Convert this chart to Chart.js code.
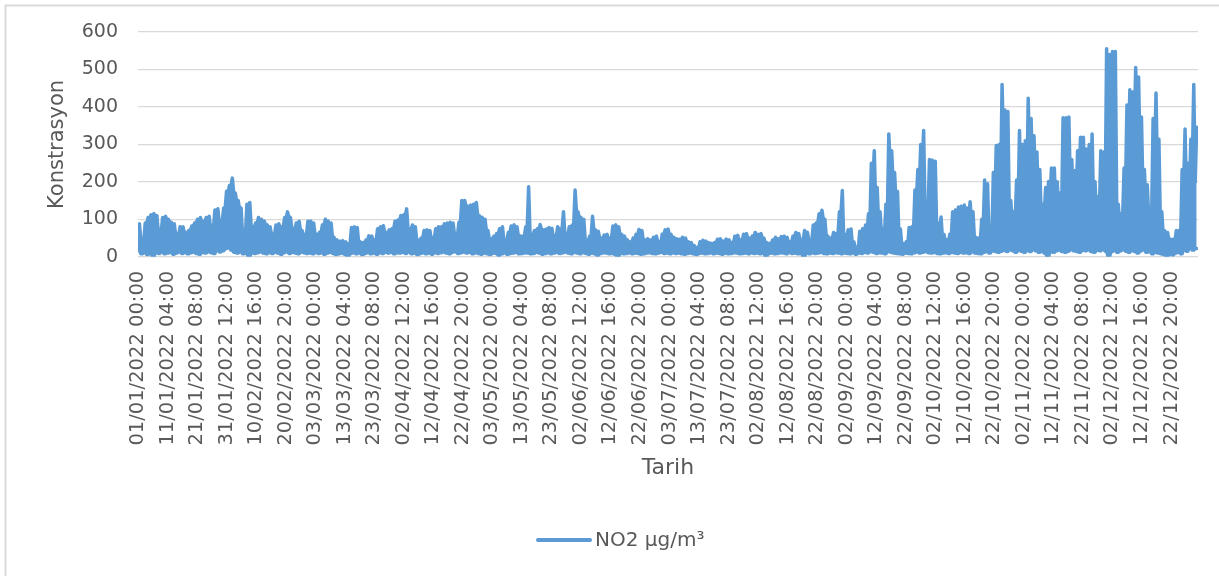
<!DOCTYPE html>
<html>
<head>
<meta charset="utf-8">
<script src="https://cdn.jsdelivr.net/npm/chart.js@4.4.0/dist/chart.umd.min.js"></script>
<style>
  html, body { margin: 0; padding: 0; background: #ffffff; }
  canvas { display: block; }
</style>
</head>
<body>
<canvas id="grafico" width="1219" height="576"></canvas>
<script>
// === DADOS ===
const seriesLabel = "NO2 µg/m³";
const yTitle = "Konstrasyon";
const xTitle = "Tarih";

// etiquetas do eixo X (uma a cada 244 horas)
const tickLabels = [
  "01/01/2022 00:00", "11/01/2022 04:00", "21/01/2022 08:00", "31/01/2022 12:00",
  "10/02/2022 16:00", "20/02/2022 20:00", "03/03/2022 00:00", "13/03/2022 04:00",
  "23/03/2022 08:00", "02/04/2022 12:00", "12/04/2022 16:00", "22/04/2022 20:00",
  "03/05/2022 00:00", "13/05/2022 04:00", "23/05/2022 08:00", "02/06/2022 12:00",
  "12/06/2022 16:00", "22/06/2022 20:00", "03/07/2022 00:00", "13/07/2022 04:00",
  "23/07/2022 08:00", "02/08/2022 12:00", "12/08/2022 16:00", "22/08/2022 20:00",
  "02/09/2022 00:00", "12/09/2022 04:00", "22/09/2022 08:00", "02/10/2022 12:00",
  "12/10/2022 16:00", "22/10/2022 20:00", "02/11/2022 00:00", "12/11/2022 04:00",
  "22/11/2022 08:00", "02/12/2022 12:00", "12/12/2022 16:00", "22/12/2022 20:00"
];
const TICK_STEP_HOURS = 244;

// pico diário (meio-dia)
const dailyPeak = [
  // jan
  88, 45, 90, 105, 112, 115, 110, 70, 105, 108, 100, 92, 88, 60, 80, 80, 65, 70, 82, 90, 100, 105, 95, 105, 108, 80, 125, 128, 95, 130, 175,
  // fev
  190, 210, 170, 150, 130, 60, 140, 145, 80, 90, 105, 100, 95, 85, 80, 60, 85, 88, 80, 105, 120, 105, 75, 90, 95, 70, 60, 95,
  // mar
  95, 90, 60, 65, 85, 100, 95, 90, 52, 45, 42, 43, 40, 35, 78, 80, 78, 40, 38, 45, 56, 55, 45, 75, 80, 83, 65, 72, 75, 95, 98,
  // abr
  110, 112, 128, 75, 85, 80, 45, 50, 70, 72, 70, 50, 75, 80, 80, 88, 90, 92, 90, 60, 92, 150, 150, 135, 138, 140, 145, 110, 105, 100,
  // mai
  70, 48, 55, 62, 75, 80, 45, 65, 82, 85, 80, 56, 55, 80, 187, 60, 70, 75, 86, 72, 74, 78, 76, 55, 80, 75, 120, 60, 80, 85, 178,
  // jun
  120, 105, 100, 45, 55, 108, 72, 68, 50, 58, 60, 50, 82, 85, 80, 60, 55, 45, 40, 50, 60, 73, 70, 45, 48, 45, 52, 55, 40, 60,
  // jul
  72, 74, 60, 52, 48, 47, 52, 50, 40, 38, 30, 25, 40, 44, 42, 38, 36, 38, 47, 48, 42, 47, 45, 38, 55, 57, 45, 60, 62, 50, 55,
  // ago
  65, 60, 62, 50, 38, 36, 45, 52, 48, 54, 55, 52, 40, 55, 65, 62, 45, 70, 65, 45, 85, 90, 115, 124, 100, 55, 50, 65, 62, 120, 177,
  // set
  60, 72, 74, 40, 25, 68, 75, 85, 115, 250, 283, 185, 120, 75, 140, 328, 283, 225, 174, 74, 35, 40, 78, 80, 178, 233, 300, 337, 138, 260,
  // out
  258, 255, 90, 106, 60, 45, 60, 120, 125, 133, 135, 138, 130, 147, 120, 52, 50, 100, 205, 195, 60, 225, 297, 300, 460, 392, 388, 150, 120, 205, 337,
  // nov
  300, 310, 423, 369, 323, 280, 233, 140, 185, 201, 237, 237, 200, 170, 371, 371, 373, 260, 230, 283, 319, 319, 288, 300, 328, 200, 160, 283, 280, 555,
  // dez
  540, 548, 548, 140, 115, 237, 405, 446, 440, 505, 480, 373, 233, 192, 124, 369, 437, 314, 120, 70, 65, 47, 47, 70, 70, 233, 341, 250, 314, 460, 346
];

// vale da madrugada (00:00 de cada dia)
const dailyTrough = [
  // jan
  85, 42, 42, 87, 102, 109, 107, 67, 67, 102, 97, 89, 85, 57, 57, 77, 62, 62, 67, 79, 87, 97, 92, 92, 102, 77, 77, 122, 92, 92, 127,
  // fev
  172, 187, 167, 147, 127, 57, 57, 137, 77, 77, 87, 97, 92, 82, 77, 57, 57, 82, 77, 77, 102, 102, 72, 72, 87, 67, 57, 57,
  // mar
  92, 87, 57, 57, 62, 82, 92, 87, 49, 42, 39, 39, 37, 32, 32, 75, 75, 37, 35, 35, 42, 52, 42, 42, 72, 77, 62, 62, 69, 72, 92,
  // abr
  95, 107, 109, 72, 72, 77, 42, 42, 47, 67, 67, 47, 47, 72, 77, 77, 85, 87, 87, 57, 57, 89, 147, 132, 132, 135, 137, 107, 102, 97,
  // mai
  67, 45, 45, 52, 59, 72, 42, 42, 62, 79, 77, 53, 52, 52, 77, 57, 57, 67, 72, 69, 69, 71, 73, 52, 52, 72, 72, 57, 57, 77, 82,
  // jun
  117, 102, 97, 42, 42, 52, 69, 65, 47, 47, 55, 47, 47, 79, 77, 57, 52, 42, 37, 37, 47, 57, 67, 42, 42, 42, 42, 49, 37, 37,
  // jul
  57, 69, 57, 49, 45, 44, 44, 47, 37, 35, 27, 22, 22, 37, 39, 35, 33, 33, 35, 44, 39, 39, 42, 35, 35, 52, 42, 42, 57, 47, 47,
  // ago
  52, 57, 57, 47, 35, 33, 33, 42, 45, 45, 51, 49, 37, 37, 52, 59, 42, 42, 62, 42, 42, 82, 87, 112, 97, 52, 47, 47, 59, 59, 110,
  // set
  45, 45, 55, 30, 20, 20, 50, 55, 60, 90, 200, 140, 90, 60, 55, 110, 240, 190, 140, 55, 30, 28, 30, 60, 65, 150, 180, 240, 110, 110,
  // out
  230, 220, 70, 60, 45, 38, 38, 50, 100, 100, 110, 110, 105, 100, 95, 45, 40, 40, 80, 120, 50, 50, 140, 200, 180, 300, 250, 110, 90, 90, 130,
  // nov
  150, 140, 160, 250, 200, 180, 150, 100, 110, 130, 150, 160, 120, 110, 120, 200, 220, 180, 150, 150, 180, 200, 180, 170, 190, 130, 110, 120, 160, 150,
  // dez
  350, 400, 420, 110, 90, 100, 180, 300, 300, 320, 350, 280, 170, 140, 100, 110, 250, 220, 90, 55, 50, 40, 38, 40, 55, 60, 180, 160, 180, 250, 200
];

// mínimo diário
const dailyLow = [
  // jan
  18, 8, 12, 6, 10, 0, 12, 9, 14, 8, 10, 12, 7, 10, 14, 9, 12, 8, 11, 13, 9, 7, 12, 10, 14, 11, 9, 20, 13, 16, 22,
  // fev
  25, 18, 12, 10, 14, 8, 10, 0, 12, 9, 11, 14, 10, 8, 12, 9, 13, 10, 7, 11, 14, 9, 12, 10, 8, 13, 11, 9,
  // mar
  10, 8, 12, 9, 11, 7, 10, 12, 9, 6, 8, 10, 7, 2, 9, 11, 8, 10, 6, 9, 12, 8, 10, 7, 11, 9, 13, 10, 12, 8, 11,
  // abr
  10, 12, 9, 14, 8, 10, 6, 9, 11, 8, 10, 7, 12, 9, 11, 13, 10, 8, 12, 14, 9, 11, 13, 10, 12, 8, 11, 9, 7, 10,
  // mai
  8, 6, 10, 9, 4, 8, 11, 7, 9, 10, 12, 8, 9, 11, 10, 8, 9, 12, 10, 7, 9, 11, 8, 10, 12, 9, 11, 13, 10, 8, 12,
  // jun
  10, 8, 12, 9, 7, 10, 8, 4, 9, 11, 10, 8, 9, 7, 0, 10, 8, 9, 11, 8, 10, 9, 7, 8, 10, 11, 9, 8, 10, 12,
  // jul
  9, 10, 8, 11, 9, 10, 8, 7, 9, 10, 8, 6, 9, 10, 8, 9, 11, 8, 10, 9, 7, 10, 8, 9, 11, 10, 8, 9, 10, 8, 11,
  // ago
  9, 10, 8, 11, 1, 9, 10, 8, 9, 11, 10, 8, 12, 9, 10, 8, 9, 0, 10, 8, 11, 9, 10, 12, 9, 8, 10, 9, 11, 10, 8,
  // set
  10, 9, 8, 11, 7, 10, 9, 12, 10, 14, 12, 9, 11, 10, 8, 14, 12, 10, 9, 8, 7, 10, 9, 8, 11, 13, 10, 12, 14, 11,
  // out
  10, 12, 9, 8, 10, 11, 9, 12, 10, 9, 12, 10, 11, 9, 14, 10, 9, 8, 12, 14, 10, 16, 14, 12, 15, 18, 14, 20, 16, 12, 18,
  // nov
  15, 12, 18, 14, 20, 16, 12, 15, 10, 0, 14, 12, 16, 18, 14, 12, 15, 20, 16, 14, 12, 18, 16, 20, 14, 12, 18, 16, 20, 15,
  // dez
  0, 14, 18, 12, 16, 20, 15, 12, 18, 14, 10, 16, 20, 12, 14, 8, 12, 10, 8, 6, 0, 8, 5, 10, 12, 8, 20, 15, 25, 18, 22
];

// === MONTA OS PONTOS (hora do ano; mesmas horas nas duas linhas) ===
const pontosTopo = [];
const pontosMin = [];
dailyPeak.forEach((pico, d) => {
  pontosTopo.push({ x: d * 24, y: dailyTrough[d] });
  pontosTopo.push({ x: d * 24 + 12, y: pico });
  pontosMin.push({ x: d * 24, y: dailyLow[d] });
  pontosMin.push({ x: d * 24 + 12, y: dailyLow[d] });
});

const corTexto = "#595959";
const corLinha = "#5b9bd5";
const fonte = "'DejaVu Sans', sans-serif";

// === moldura e legenda ===
const moldura = {
  id: "moldura",
  beforeDraw(chart) {
    const ctx = chart.ctx;
    ctx.save();
    ctx.strokeStyle = "#d9d9d9";
    ctx.lineWidth = 2;
    ctx.beginPath();
    ctx.moveTo(5.5, chart.height);
    ctx.lineTo(5.5, 5.5);
    ctx.lineTo(chart.width, 5.5);
    ctx.stroke();
    ctx.restore();
  },
  afterDraw(chart) {
    const ctx = chart.ctx;
    const ds = chart.data.datasets[0];
    ctx.save();
    ctx.strokeStyle = ds.borderColor;
    ctx.lineWidth = 4;
    ctx.lineCap = "round";
    ctx.beginPath();
    ctx.moveTo(538, 540);
    ctx.lineTo(590, 540);
    ctx.stroke();
    ctx.fillStyle = corTexto;
    ctx.font = "20px " + fonte;
    ctx.textBaseline = "middle";
    ctx.textAlign = "left";
    ctx.fillText(ds.label, 595, 541);
    ctx.restore();
  },
};

const estiloLinha = {
  borderColor: corLinha,
  backgroundColor: corLinha,
  borderWidth: 3.5,
  borderJoinStyle: "round",
  borderCapStyle: "round",
  pointRadius: 0,
  tension: 0,
};

new Chart(document.getElementById("grafico"), {
  type: "line",
  data: {
    datasets: [
      // faixa horária: preenchida entre o contorno superior e o mínimo de cada dia
      { ...estiloLinha, label: seriesLabel, data: pontosTopo, fill: "+1" },
      { ...estiloLinha, label: seriesLabel + " (min)", data: pontosMin, fill: false },
    ],
  },
  options: {
    responsive: false,
    animation: false,
    devicePixelRatio: 1,
    layout: { padding: { left: 44.5, right: 21, top: 32, bottom: 94.4 } },
    plugins: {
      legend: { display: false },
      tooltip: { enabled: false },
    },
    scales: {
      x: {
        type: "linear",
        min: 0,
        max: 8759,
        grid: { display: false, drawTicks: false },
        border: { display: false },
        afterBuildTicks: (scale) => {
          scale.ticks = tickLabels.map((_, i) => ({ value: i * TICK_STEP_HOURS }));
        },
        ticks: {
          autoSkip: false,
          minRotation: 90,
          maxRotation: 90,
          padding: 14,
          color: corTexto,
          font: { family: fonte, size: 19.5 },
          callback: (v, i) => tickLabels[i],
        },
        title: {
          display: true,
          text: xTitle,
          color: corTexto,
          font: { family: fonte, size: 22 },
          padding: { top: 0, bottom: 0 },
        },
      },
      y: {
        min: 0,
        max: 600,
        grid: { color: "#d9d9d9", lineWidth: 1.3, drawTicks: false },
        border: { display: false },
        ticks: {
          stepSize: 100,
          padding: 20,
          color: corTexto,
          font: { family: fonte, size: 19 },
        },
        title: {
          display: true,
          text: yTitle,
          color: corTexto,
          font: { family: fonte, size: 21 },
          padding: { top: 0, bottom: -8 },
        },
      },
    },
  },
  plugins: [moldura],
});
</script>
</body>
</html>
